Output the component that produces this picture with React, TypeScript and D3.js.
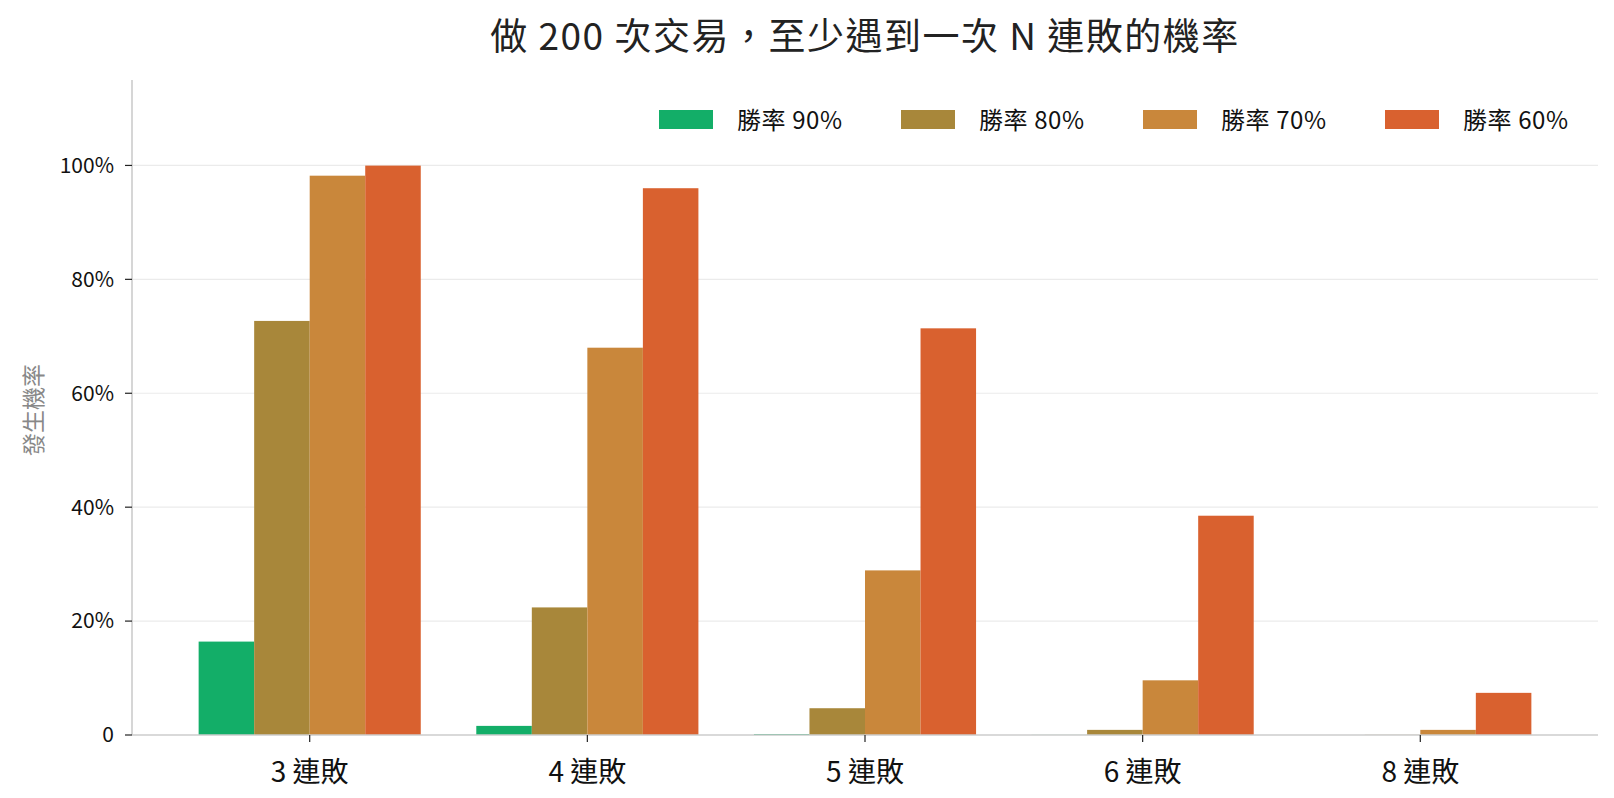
import React, { useEffect } from "react";
import * as d3 from "d3";

const categories = ["3 連敗", "4 連敗", "5 連敗", "6 連敗", "8 連敗"];
const series = ["勝率 90%", "勝率 80%", "勝率 70%", "勝率 60%"];
const colors = ["#13ae68", "#a8873a", "#c9873b", "#d9612f"];
const win90 = [0.164, 0.016, 0.0017, 0.0002, 0.0];
const win80 = [0.727, 0.224, 0.047, 0.009, 0.0003];
const win70 = [0.982, 0.68, 0.289, 0.096, 0.009];
const win60 = [0.9997, 0.96, 0.714, 0.385, 0.074];
const values = [win90, win80, win70, win60];
const yTicks = [0, 0.2, 0.4, 0.6, 0.8, 1.0];

const W = 1614;
const H = 798;
const margin = { left: 132, right: 16, top: 80, bottom: 63 };
const FONT = "'Noto Sans CJK TC', 'Noto Sans', sans-serif";

export default function App(): JSX.Element {
  useEffect(() => {
    document.body.style.margin = "0";
  }, []);

  const x0 = d3
    .scaleBand()
    .domain(categories)
    .range([margin.left, W - margin.right])
    .paddingInner(0.2)
    .paddingOuter(0.24);
  const x1 = d3.scaleBand().domain(series).range([0, x0.bandwidth()]);
  const y = d3
    .scaleLinear()
    .domain([0, 1.15])
    .range([H - margin.bottom, margin.top]);

  const fmt = (v: number) => (v === 0 ? "0" : `${Math.round(v * 100)}%`);
  const y0 = y(0);

  return (
    <svg width={W} height={H} style={{ display: "block", fontFamily: FONT }}>
      <rect width={W} height={H} fill="#fff" />
      {/* gridlines */}
      {yTicks.slice(1).map((t) => (
        <line
          key={t}
          x1={margin.left}
          x2={W - margin.right}
          y1={y(t)}
          y2={y(t)}
          stroke="#ebebeb"
          strokeWidth={1.2}
        />
      ))}
      {/* bars */}
      {categories.map((c, i) => (
        <g key={c} transform={`translate(${x0(c)},0)`}>
          {series.map((s, j) => (
            <rect
              key={s}
              x={x1(s)}
              y={y(values[j][i])}
              width={x1.bandwidth()}
              height={y0 - y(values[j][i])}
              fill={colors[j]}
            />
          ))}
        </g>
      ))}
      {/* spines */}
      <line x1={margin.left} x2={margin.left} y1={margin.top} y2={y0} stroke="#cccccc" strokeWidth={1.6} />
      <line x1={margin.left} x2={W - margin.right} y1={y0} y2={y0} stroke="#cccccc" strokeWidth={1.6} />
      {/* y ticks */}
      {yTicks.map((t) => (
        <g key={t}>
          <line x1={margin.left - 7} x2={margin.left} y1={y(t)} y2={y(t)} stroke="#222" strokeWidth={1.2} />
          <text
            x={margin.left - 18}
            y={y(t)}
            dy="0.35em"
            textAnchor="end"
            fontSize={21}
            fill="#111"
          >
            {fmt(t)}
          </text>
        </g>
      ))}
      {/* x ticks */}
      {categories.map((c) => {
        const cx = (x0(c) as number) + x0.bandwidth() / 2;
        return (
          <g key={c}>
            <line x1={cx} x2={cx} y1={y0} y2={y0 + 7} stroke="#222" strokeWidth={1.2} />
            <text x={cx} y={y0 + 47} textAnchor="middle" fontSize={28} fill="#111">
              {c}
            </text>
          </g>
        );
      })}
      {/* y label */}
      <text
        transform={`translate(42,410) rotate(-90)`}
        textAnchor="middle"
        fontSize={23}
        fill="#888"
      >
        發生機率
      </text>
      {/* title */}
      <text
        x={(margin.left + W - margin.right) / 2}
        y={50}
        textAnchor="middle"
        fontSize={37}
        letterSpacing={1.5}
        fill="#222"
      >
        做 200 次交易，至少遇到一次 N 連敗的機率
      </text>
      {/* legend */}
      {series.map((s, j) => (
        <g key={s} transform={`translate(${659 + j * 242},110)`}>
          <rect width={54} height={19} fill={colors[j]} />
          <text x={78} y={10} dy="0.36em" fontSize={24} letterSpacing={0.6} fill="#111">
            {s}
          </text>
        </g>
      ))}
    </svg>
  );
}
